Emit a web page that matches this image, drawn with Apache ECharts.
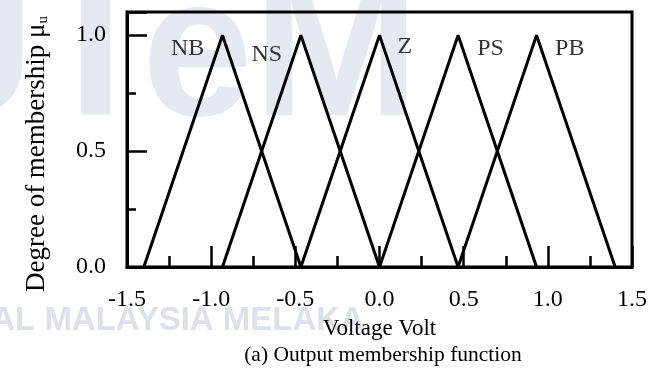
<!DOCTYPE html>
<html>
<head>
<meta charset="utf-8">
<script src="https://cdn.jsdelivr.net/npm/echarts@6/dist/echarts.min.js"></script>
<style>
  html, body { margin: 0; padding: 0; background: #fff; }
  #chart { width: 667px; height: 370px; }
</style>
</head>
<body>
<div id="chart"></div>
<script>
// membership function sets: [left foot, peak, right foot]
const setNames = ['NB', 'NS', 'Z', 'PS', 'PB'];
const setPoints = [
  [-1.4, -0.933, -0.467],
  [-0.933, -0.467, 0],
  [-0.467, 0, 0.467],
  [0, 0.467, 0.933],
  [0.467, 0.933, 1.4]
];
const peakValue = 1.0;
// where each set name sits (data coords)
const nameSpots = [[-1.14, 0.94], [-0.67, 0.915], [0.15, 0.95], [0.66, 0.94], [1.13, 0.94]];

const serif = '"Liberation Serif", "Times New Roman", serif';
const chart = echarts.init(document.getElementById('chart'));

const lineSeries = setNames.map(function (name, i) {
  const p = setPoints[i];
  return {
    name: name,
    type: 'line',
    symbol: 'none',
    z: 5,
    lineStyle: { color: '#000', width: 3 },
    data: [[p[0], 0], [p[1], peakValue], [p[2], 0]]
  };
});

const option = {
  animation: false,
  backgroundColor: '#fff',
  grid: {
    left: 127, right: 35, top: 12, bottom: 103,
    show: true, borderColor: '#000', borderWidth: 3
  },
  title: {
    text: '(a) Output membership function',
    left: 378, top: 339, textAlign: 'center',
    textStyle: { fontFamily: serif, fontSize: 21.5, fontWeight: 'normal', color: '#000' }
  },
  xAxis: {
    type: 'value',
    min: -1.5, max: 1.5, interval: 0.5,
    name: 'Voltage Volt',
    nameLocation: 'middle',
    nameGap: 50,
    nameTextStyle: { fontFamily: serif, fontSize: 23, color: '#000' },
    axisLine: { onZero: false, lineStyle: { color: '#000', width: 3 } },
    axisTick: { inside: true, length: 21, lineStyle: { color: '#000', width: 2.5 } },
    minorTick: { show: true, splitNumber: 2, length: 11, lineStyle: { color: '#000', width: 2.5 } },
    splitLine: { show: false },
    axisLabel: {
      margin: 21, fontFamily: serif, fontSize: 24, color: '#000',
      formatter: function (v) { return v.toFixed(1); }
    }
  },
  yAxis: {
    type: 'value',
    min: 0, max: 1.1, interval: 0.5,
    axisLine: { onZero: false, lineStyle: { color: '#000', width: 3 } },
    axisTick: { inside: true, length: 20, lineStyle: { color: '#000', width: 2.5 } },
    minorTick: { show: true, splitNumber: 2, length: 9, lineStyle: { color: '#000', width: 2.5 } },
    splitLine: { show: false },
    axisLabel: {
      margin: 21, fontFamily: serif, fontSize: 24, color: '#000',
      showMaxLabel: false,
      formatter: function (v) { return v.toFixed(1); }
    }
  },
  graphic: [
    // faint watermark behind the plot
    {
      type: 'text', left: -110, top: -40, z: -10, silent: true,
      style: { text: 'UTeM', font: 'bold 200px "Liberation Sans", sans-serif', fill: 'rgba(170,185,212,0.3)' }
    },
    {
      type: 'text', x: 364, y: 321, z: -10, silent: true,
      style: {
        text: 'UNIVERSITI TEKNIKAL MALAYSIA MELAKA', align: 'right', verticalAlign: 'middle',
        font: 'bold 33px "Liberation Sans", sans-serif', fill: 'rgba(170,180,200,0.4)'
      }
    },
    {
      type: 'text', x: 37, y: 154, rotation: Math.PI / 2,
      style: {
        text: 'Degree of membership μ{sub|u}',
        align: 'center', verticalAlign: 'middle',
        font: '27px ' + serif, fill: '#000',
        rich: { sub: { fontSize: 15, fontFamily: serif, verticalAlign: 'bottom', fill: '#000' } }
      }
    }
  ],
  series: lineSeries.concat([{
    type: 'scatter',
    symbolSize: 0,
    z: 6,
    silent: true,
    data: nameSpots.map(function (s, i) { return { value: s, name: setNames[i] }; }),
    label: {
      show: true, position: 'inside', formatter: '{b}',
      fontFamily: serif, fontSize: 24, color: '#000'
    }
  }])
};

chart.setOption(option);
</script>
</body>
</html>
